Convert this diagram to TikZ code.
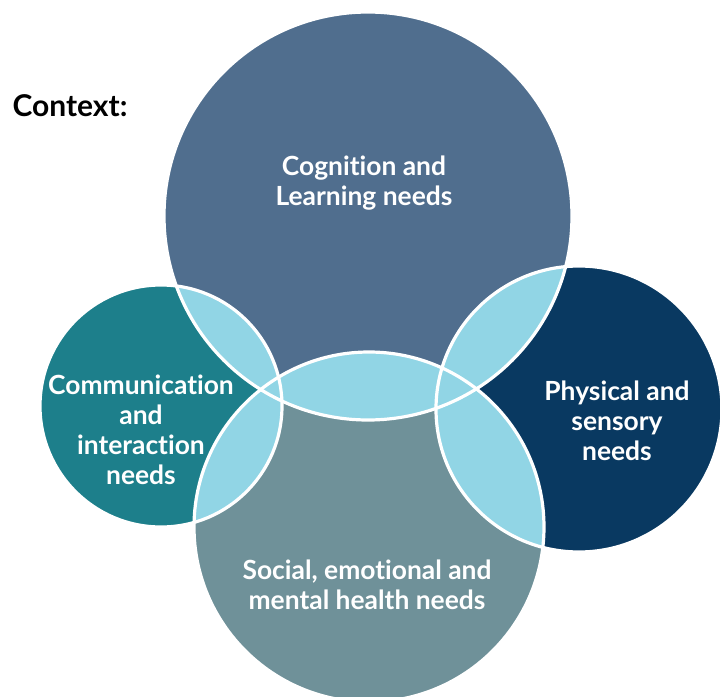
\documentclass[tikz,border=0pt]{standalone}
\usepackage{fontspec}
\setmainfont{Lato}[Ligatures=NoCommon]
\usepackage{tikz}
\usetikzlibrary{positioning}

\definecolor{cogblue}{RGB}{80,110,142}
\definecolor{comteal}{RGB}{29,127,139}
\definecolor{physnavy}{RGB}{9,57,97}
\definecolor{socgrey}{RGB}{111,145,153}
\definecolor{lensblue}{RGB}{145,213,229}

\begin{document}
\begin{tikzpicture}[x=0.5pt,y=-0.5pt,
    need/.style={text=white,font=\bfseries\fontsize{13.2}{15}\selectfont,align=center},
    ring/.style={draw=white,line width=1.6pt}]
    \useasboundingbox (0,0) rectangle (720,697);

    \coordinate (cog) at (368,216);   % Cognition
    \coordinate (com) at (161,406);   % Communication
    \coordinate (phy) at (579,409);   % Physical
    \coordinate (soc) at (369,527);   % Social

    % circles
    \fill[cogblue]  (cog) circle (204);
    \fill[comteal]  (com) circle (121);
    \fill[physnavy] (phy) circle (143);
    \fill[socgrey]  (soc) circle (175);

    % overlaps
    \begin{scope}
        \clip (cog) circle (204);
        \fill[lensblue] (com) circle (121);
        \fill[lensblue] (phy) circle (143);
        \fill[lensblue] (soc) circle (175);
    \end{scope}
    \begin{scope}
        \clip (soc) circle (175);
        \fill[lensblue] (com) circle (121);
        \fill[lensblue] (phy) circle (143);
    \end{scope}

    % white rims
    \draw[ring] (cog) circle (204);
    \draw[ring] (com) circle (121);
    \draw[ring] (phy) circle (143);
    \draw[ring] (soc) circle (175);

    % labels
    \node[need] (coglabel) at (364,183) {Cognition and\\Learning needs};
    \node[need] (comlabel) at (141,430) {Communication\\and\\interaction\\needs};
    \node[need] (phylabel) at (617,421) {Physical and\\sensory\\needs};
    \node[need] (soclabel) at (367,585) {Social, emotional and\\mental health needs};
    \node[font=\bfseries\fontsize{15}{18}\selectfont] (context) at (70,106) {Context:};
\end{tikzpicture}
\end{document}
